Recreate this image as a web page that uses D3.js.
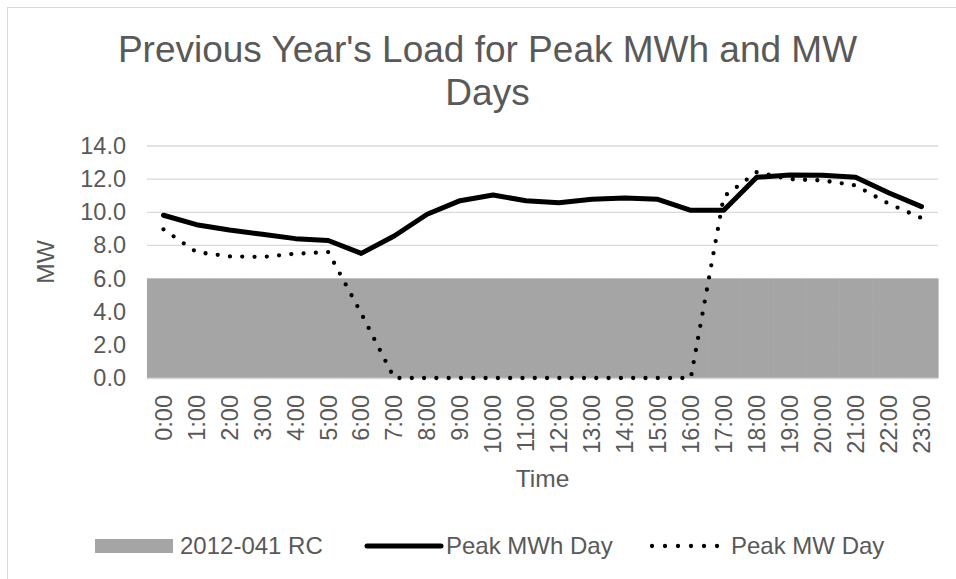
<!DOCTYPE html>
<html>
<head>
<meta charset="utf-8">
<script src="https://cdn.jsdelivr.net/npm/d3@7/dist/d3.min.js"></script>
<style>
  html, body { margin: 0; padding: 0; background: #ffffff; }
  svg { display: block; }
  text { font-family: "Liberation Sans", Arial, Helvetica, sans-serif; fill: #595959; }
</style>
</head>
<body>
<svg id="chart" width="956" height="579"></svg>
<script>
const hours = ["0:00","1:00","2:00","3:00","4:00","5:00","6:00","7:00","8:00","9:00","10:00","11:00",
               "12:00","13:00","14:00","15:00","16:00","17:00","18:00","19:00","20:00","21:00","22:00","23:00"];
const rcValues = [6,6,6,6,6,6,6,6,6,6,6,6,6,6,6,6,6,6,6,6,6,6,6,6];
const peakMWhDay = [9.82, 9.25, 8.93, 8.67, 8.41, 8.3, 7.52, 8.57, 9.88, 10.7, 11.04, 10.7,
                    10.58, 10.78, 10.86, 10.78, 10.12, 10.12, 12.11, 12.25, 12.23, 12.11, 11.18, 10.34];
const peakMWDay = [8.97, 7.6, 7.34, 7.3, 7.5, 7.6, 3.9, 0, 0, 0, 0, 0,
                   0, 0, 0, 0, 0, 10.95, 12.42, 12.0, 11.92, 11.62, 10.52, 9.65];
const yTicks = [0, 2, 4, 6, 8, 10, 12, 14];
const seriesNames = ["2012-041 RC", "Peak MWh Day", "Peak MW Day"];
const titleLines = ["Previous Year's Load for Peak MWh and MW", "Days"];

const svg = d3.select("#chart");
const plot = { left: 147, right: 938, top: 146, bottom: 378 };

// chart border
svg.append("rect")
  .attr("x", 7.5).attr("y", 7.5).attr("width", 970).attr("height", 600)
  .attr("fill", "#ffffff").attr("stroke", "#d9d9d9").attr("stroke-width", 1);

const x = d3.scaleBand().domain(hours).range([plot.left, plot.right]).padding(0);
const cx = d => x(d) + x.bandwidth() / 2;
const y = d3.scaleLinear().domain([0, 14]).range([plot.bottom, plot.top]);

// gridlines
svg.append("g")
  .selectAll("line").data(yTicks.filter(t => t > 0)).join("line")
  .attr("x1", plot.left).attr("x2", plot.right)
  .attr("y1", d => y(d)).attr("y2", d => y(d))
  .attr("stroke", "#d9d9d9").attr("stroke-width", 1.3);

// RC area (as full-width bands)
svg.append("g")
  .selectAll("rect").data(hours).join("rect")
  .attr("x", d => x(d)).attr("width", x.bandwidth() + 0.6)
  .attr("y", (d, i) => y(rcValues[i]))
  .attr("height", (d, i) => y(0) - y(rcValues[i]))
  .attr("fill", "#a5a5a5");

// x axis line
svg.append("line")
  .attr("x1", plot.left).attr("x2", plot.right)
  .attr("y1", y(0) + 0.5).attr("y2", y(0) + 0.5)
  .attr("stroke", "#d9d9d9").attr("stroke-width", 1.3);

// y axis tick labels
const yAxis = d3.axisLeft(y).tickValues(yTicks).tickFormat(d3.format(".1f")).tickSize(0).tickPadding(0);
const yg = svg.append("g").attr("transform", `translate(${plot.left - 21},0)`).call(yAxis);
yg.select(".domain").remove();
yg.selectAll("text").style("font-size", "23.5px").attr("fill", "#595959")
  .attr("font-family", "Liberation Sans, Arial, sans-serif");

// x axis tick labels (rotated)
const xAxis = d3.axisBottom(x).tickSize(0).tickPadding(0);
const xg = svg.append("g").attr("transform", `translate(0,${plot.bottom})`).call(xAxis);
xg.select(".domain").remove();
xg.selectAll("text")
  .style("font-size", "23.5px").attr("fill", "#595959")
  .attr("font-family", "Liberation Sans, Arial, sans-serif")
  .attr("text-anchor", "end")
  .attr("transform", "rotate(-90)")
  .attr("x", -17).attr("y", 0).attr("dy", "0.35em");

// lines
const lineGen = vals => d3.line().x((d, i) => cx(hours[i])).y(d => y(d))(vals);

svg.append("path").attr("d", lineGen(peakMWhDay))
  .attr("fill", "none").attr("stroke", "#000000").attr("stroke-width", 5)
  .attr("stroke-linejoin", "round").attr("stroke-linecap", "round");

svg.append("path").attr("d", lineGen(peakMWDay))
  .attr("fill", "none").attr("stroke", "#000000").attr("stroke-width", 4.3)
  .attr("stroke-dasharray", "0 12.3").attr("stroke-linecap", "round")
  .attr("stroke-linejoin", "round");

// title
svg.append("g").selectAll("text").data(titleLines).join("text")
  .attr("x", 487.5).attr("y", (d, i) => 62 + i * 43)
  .attr("text-anchor", "middle").style("font-size", "37px")
  .text(d => d);

// axis titles
svg.append("text").attr("x", (plot.left + plot.right) / 2).attr("y", 487)
  .attr("text-anchor", "middle").style("font-size", "24.5px").text("Time");
svg.append("text")
  .attr("transform", `translate(54,${(plot.top + plot.bottom) / 2}) rotate(-90)`)
  .attr("text-anchor", "middle").style("font-size", "24.5px").text("MW");

// legend
const lg = svg.append("g");
const ly = 546;
lg.append("rect").attr("x", 95).attr("y", ly - 7).attr("width", 78).attr("height", 14).attr("fill", "#a5a5a5");
lg.append("text").attr("x", 180).attr("y", ly).attr("dy", "0.35em").style("font-size", "24px").text(seriesNames[0]);
lg.append("line").attr("x1", 367).attr("x2", 441).attr("y1", ly).attr("y2", ly)
  .attr("stroke", "#000").attr("stroke-width", 5).attr("stroke-linecap", "round");
lg.append("text").attr("x", 446).attr("y", ly).attr("dy", "0.35em").style("font-size", "24px").text(seriesNames[1]);
lg.append("line").attr("x1", 652).attr("x2", 718).attr("y1", ly).attr("y2", ly)
  .attr("stroke", "#000").attr("stroke-width", 4.3).attr("stroke-linecap", "round")
  .attr("stroke-dasharray", "0 13");
lg.append("text").attr("x", 731).attr("y", ly).attr("dy", "0.35em").style("font-size", "24px").text(seriesNames[2]);
</script>
</body>
</html>
